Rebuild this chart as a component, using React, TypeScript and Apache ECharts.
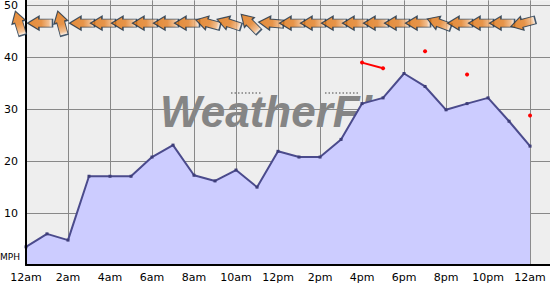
import React, { useEffect, useRef } from "react";
import * as echarts from "echarts";

// Hourly wind speed (MPH), 12am .. 12am
const hours = [0, 1, 2, 3, 4, 5, 6, 7, 8, 9, 10, 11, 12, 13, 14, 15, 16, 17, 18, 19, 20, 21, 22, 23, 24];
const windSpeed = [3.5, 6.0, 4.8, 17.1, 17.1, 17.1, 20.8, 23.1, 17.3, 16.2, 18.3, 15.0, 21.9, 20.8, 20.8, 24.2, 31.1, 32.2, 36.9, 34.4, 29.9, 31.1, 32.2, 27.7, 22.9];
// Gusts (MPH); null = no gust reported
const windGust: (number | null)[] = [null, null, null, null, null, null, null, null, null, null, null, null, null, null, null, null, 39.0, 37.9, null, 41.2, null, 36.7, null, null, 28.8];
// Wind direction (degrees, where the wind comes from)
const windDir = [163, 90, 165, 90, 90, 90, 90, 90, 90, 105, 108, 135, 95, 90, 90, 90, 90, 90, 90, 90, 110, 90, 90, 90, 75];
const xTickLabels = ["12am", "2am", "4am", "6am", "8am", "10am", "12pm", "2pm", "4pm", "6pm", "8pm", "10pm", "12am"];
const yTicks = [10, 20, 30, 40, 50];

const ARROW_ROW = 46.6;
const FONT = "DejaVu Sans, Verdana, sans-serif";
const ARROW_PATH = "path://M0,-12 L7,-1 L4,-1 L4,12 L-4,12 L-4,-1 L-7,-1 Z";

export default function App() {
  const ref = useRef<HTMLDivElement>(null);
  useEffect(() => {
    document.body.style.margin = "0";
    if (!ref.current) return;
    const chart = echarts.init(ref.current, null, { renderer: "svg" });
    const arrowFill = new echarts.graphic.LinearGradient(0, 0, 0, 1, [
      { offset: 0, color: "#e0740f" },
      { offset: 0.55, color: "#e57d1f" },
      { offset: 0.85, color: "#f2b47c" },
      { offset: 1, color: "#ffffff" },
    ]);
    const xBase = { type: "value", min: 0, max: 24.95, interval: 2 };
    const yBase = { type: "value", min: 0, max: 51, interval: 10 };
    chart.setOption({
      animation: false,
      backgroundColor: "#ffffff",
      grid: {
        left: 26, right: 0, top: 0, bottom: 20,
        show: true, backgroundColor: "#eeeeee", borderWidth: 0,
      },
      graphic: [
        {
          type: "text", z: 0, x: 160, y: 111,
          style: {
            text: "WeatherFlow", fill: "#858585",
            font: "italic bold 44px 'Liberation Sans', Arial, sans-serif",
            verticalAlign: "middle",
          },
        },
        {
          type: "line", z: 0,
          shape: { x1: 231, y1: 93, x2: 262, y2: 93 },
          style: { stroke: "#9a9a9a", lineWidth: 2, lineDash: [1.5, 2] },
        },
        {
          type: "line", z: 0,
          shape: { x1: 325, y1: 93, x2: 358, y2: 93 },
          style: { stroke: "#9a9a9a", lineWidth: 2, lineDash: [1.5, 2] },
        },
        {
          type: "text", z: 5, x: 0, y: 257,
          style: { text: "MPH", fill: "#000", font: `9px ${FONT}`, verticalAlign: "middle" },
        },
      ],
      xAxis: [
        {
          ...xBase, z: 1,
          axisLine: { show: false }, axisTick: { show: false },
          axisLabel: {
            color: "#000", fontSize: 11, fontFamily: FONT, margin: 7, showMaxLabel: false,
            formatter: (v: number) => (v % 2 === 0 ? xTickLabels[v / 2] ?? "" : ""),
          },
          splitLine: { show: true, showMaxLine: false, lineStyle: { color: "#888888", width: 1 } },
        },
        {
          ...xBase, z: 3,
          axisLine: { show: true, lineStyle: { color: "#000", width: 2 } },
          axisTick: { show: false }, axisLabel: { show: false }, splitLine: { show: false },
        },
      ],
      yAxis: [
        {
          ...yBase, z: 1,
          axisLine: { show: false }, axisTick: { show: false },
          axisLabel: {
            color: "#000", fontSize: 11, fontFamily: FONT, margin: 8, showMaxLabel: false,
            formatter: (v: number) => (yTicks.includes(v) ? String(v) : ""),
          },
          splitLine: { show: true, showMaxLine: false, lineStyle: { color: "#888888", width: 1 } },
        },
        {
          ...yBase, z: 3,
          axisLine: { show: true, lineStyle: { color: "#000", width: 2 } },
          axisTick: { show: false }, axisLabel: { show: false }, splitLine: { show: false },
        },
      ],
      series: [
        {
          type: "line", z: 2,
          data: hours.map((h, i) => [h, windSpeed[i]]),
          symbol: "rect", symbolSize: 3, showSymbol: true,
          itemStyle: { color: "#3d3d78" },
          lineStyle: { color: "#4b4b8c", width: 2 },
          areaStyle: { color: "#ccccff", opacity: 1 },
        },
        {
          type: "line", z: 4,
          data: hours.map((h, i) => [h, windGust[i]]),
          connectNulls: false,
          symbol: "circle", symbolSize: 4, showSymbol: true,
          itemStyle: { color: "#ff0000" },
          lineStyle: { color: "#ff0000", width: 2 },
        },
        {
          type: "scatter", z: 5, clip: false,
          data: hours.map((h) => [h, ARROW_ROW]),
          symbol: ARROW_PATH,
          symbolSize: [14, 25],
          symbolOffset: [-7, 0],
          symbolRotate: (_v: any, p: any) => (((180 - windDir[p.dataIndex]) % 360) + 360) % 360,
          itemStyle: { color: arrowFill, borderColor: "#163049", borderWidth: 1.2 },
        },
      ],
    });
    return () => chart.dispose();
  }, []);
  return <div ref={ref} style={{ width: 550, height: 285 }} />;
}
